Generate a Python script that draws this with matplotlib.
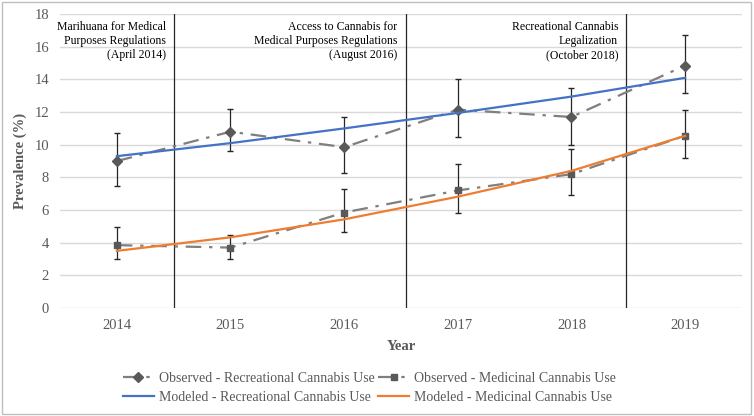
import matplotlib
matplotlib.use('Agg')
import matplotlib.pyplot as plt
from matplotlib.patches import Rectangle
import numpy as np

years = ['2014', '2015', '2016', '2017', '2018', '2019']

obs_rec = [9.0, 10.8, 9.85, 12.15, 11.7, 14.85]
obs_rec_lo = [7.5, 9.6, 8.3, 10.5, 10.0, 13.15]
obs_rec_hi = [10.75, 12.2, 11.7, 14.05, 13.5, 16.75]

obs_med = [3.85, 3.7, 5.85, 7.2, 8.2, 10.55]
obs_med_lo = [3.0, 3.0, 4.65, 5.85, 6.9, 9.2]
obs_med_hi = [4.95, 4.5, 7.3, 8.85, 9.75, 12.1]

mod_rec = [9.3, 10.1, 11.0, 11.95, 12.95, 14.1]
mod_med = [3.5, 4.33, 5.43, 6.82, 8.4, 10.55]

# policy events: (x position on category axis, label)
events_x = [0.5, 2.54, 4.48]
events_txt = ["Marihuana for Medical\nPurposes Regulations\n(April 2014)",
              "Access to Cannabis for\nMedical Purposes Regulations\n(August 2016)",
              "Recreational Cannabis\nLegalization\n(October 2018)"]

plt.rcParams['font.family'] = ['Liberation Serif', 'DejaVu Serif']
txt = '#595959'

fig = plt.figure(figsize=(7.54, 4.16), dpi=100)
ax = fig.add_axes([0.0796, 0.2596, 0.9044, 0.7064])
x = np.arange(len(years))

for v in range(0, 19, 2):
    ax.axhline(v, color='#d9d9d9', lw=1, zorder=0)

for ex, et in zip(events_x, events_txt):
    ax.axvline(ex, color='#262626', lw=0.9, zorder=1)
    ax.text(ex - 0.07, 17.6, et, ha='right', va='top', fontsize=8.5,
            color='black', linespacing=1.25)

ax.errorbar(x, obs_rec, yerr=[np.subtract(obs_rec, obs_rec_lo), np.subtract(obs_rec_hi, obs_rec)],
            fmt='none', ecolor='#262626', elinewidth=0.9, capsize=2.5, zorder=2)
ax.errorbar(x, obs_med, yerr=[np.subtract(obs_med, obs_med_lo), np.subtract(obs_med_hi, obs_med)],
            fmt='none', ecolor='#262626', elinewidth=0.9, capsize=2.5, zorder=2)

dd = (0, (7, 3.5, 1.5, 3.5))
h1, = ax.plot(x, obs_rec, color='#7f7f7f', lw=1.6, ls=dd, marker='D', ms=5.5,
              mfc='#595959', mec='#595959', label='Observed - Recreational Cannabis Use', zorder=3)
h2, = ax.plot(x, obs_med, color='#7f7f7f', lw=1.6, ls=dd, marker='s', ms=5,
              mfc='#595959', mec='#595959', label='Observed - Medicinal Cannabis Use', zorder=3)
h3, = ax.plot(x, mod_rec, color='#4472C4', lw=1.6, label='Modeled - Recreational Cannabis Use', zorder=4)
h4, = ax.plot(x, mod_med, color='#ED7D31', lw=1.6, label='Modeled - Medicinal Cannabis Use', zorder=4)

ax.set_xlim(-0.5, 5.5)
ax.set_ylim(0, 18)
ax.set_yticks(range(0, 19, 2))
ax.set_xticks(x)
ax.set_xticklabels(years)
ax.tick_params(length=0, labelsize=10.5, colors=txt, pad=8)
for s in ax.spines.values():
    s.set_visible(False)

ax.set_xlabel('Year', fontsize=10.5, fontweight='bold', color=txt, labelpad=6)
ax.set_ylabel('Prevalence (%)', fontsize=10.5, fontweight='bold', color=txt, labelpad=5)

fig.legend(handles=[h1, h3, h2, h4], ncol=2, loc='center', bbox_to_anchor=(0.49, 0.068),
           frameon=False, fontsize=10, labelcolor=txt, handlelength=2.2,
           handletextpad=0.35, columnspacing=0.3, labelspacing=0.45)

fig.patches.append(Rectangle((0.002, 0.004), 0.994, 0.992, transform=fig.transFigure,
                             fill=False, edgecolor='#bfbfbf', lw=1))

fig.savefig('out.png', dpi=100)
